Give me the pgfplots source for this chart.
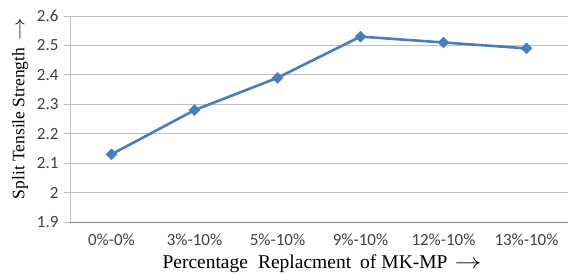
\documentclass[border=0pt]{standalone}
\usepackage{fontspec}
\setmainfont{Liberation Serif}
\newfontfamily\tickfont{Carlito}
\usepackage{graphicx}
\usepackage{pgfplots}
\pgfplotsset{compat=1.18}
\definecolor{lineblue}{HTML}{4A7EBB}
\definecolor{gridgray}{HTML}{BFBFBF}
\definecolor{ticktext}{HTML}{404040}
\newcommand{\arr}{\scalebox{1.3}[1]{$\rightarrow$}}
\begin{document}
\begin{tikzpicture}
\useasboundingbox (-70pt,-53pt) rectangle (498pt,222pt);
\begin{axis}[
  at={(0pt,0pt)}, anchor=south west,
  scale only axis, width=498pt, height=206pt,
  xmin=-0.5, xmax=5.5, ymin=1.9, ymax=2.6,
  ytick={1.9,2,2.1,2.2,2.3,2.4,2.5,2.6},
  yticklabels={1.9,2,2.1,2.2,2.3,2.4,2.5,2.6},
  xtick={0,1,2,3,4,5},
  xticklabels={0\%-0\%,3\%-10\%,5\%-10\%,9\%-10\%,12\%-10\%,13\%-10\%},
  extra x ticks={-0.5,0.5,1.5,2.5,3.5,4.5},
  extra x tick labels={},
  extra x tick style={major tick length=5pt, tick style={draw=gray, line width=0.8pt}, grid=none, xticklabel=\empty, tick align=outside},
  major x tick style={draw=none},
  ymajorgrids, grid style={draw=gridgray, line width=0.8pt},
  major y tick style={draw=gridgray, line width=0.8pt},
  ytick align=outside, major tick length=6pt,
  axis x line*=bottom, axis y line*=left,
  x axis line style={draw=gray, line width=0.8pt, -},
  y axis line style={draw=gridgray, line width=0.8pt, -},
  tick label style={font=\tickfont\fontsize{17}{19}\selectfont, text=ticktext},
  xticklabel style={yshift=-8pt},
  yticklabel style={xshift=-2pt},
  xlabel={Percentage\hspace{10pt}Replacment\hspace{9pt}of\hspace{5pt}MK-MP\hspace{7pt}\arr},
  ylabel={Split Tensile Strength\hspace{7pt}\arr},
  xlabel style={font=\fontsize{19.5}{21}\selectfont, yshift=2pt, xshift=3pt},
  ylabel style={font=\fontsize{17.5}{19}\selectfont, at={(ticklabel cs:0.55)}, yshift=2pt},
  clip=false,
]
\addplot[color=lineblue, line width=2.6pt, mark=square*, mark size=3.9pt, mark options={fill=lineblue, draw=lineblue, line width=0.3pt, rotate=45}]
coordinates {(0,2.13) (1,2.28) (2,2.39) (3,2.53) (4,2.51) (5,2.49)};
\end{axis}
\end{tikzpicture}
\end{document}
